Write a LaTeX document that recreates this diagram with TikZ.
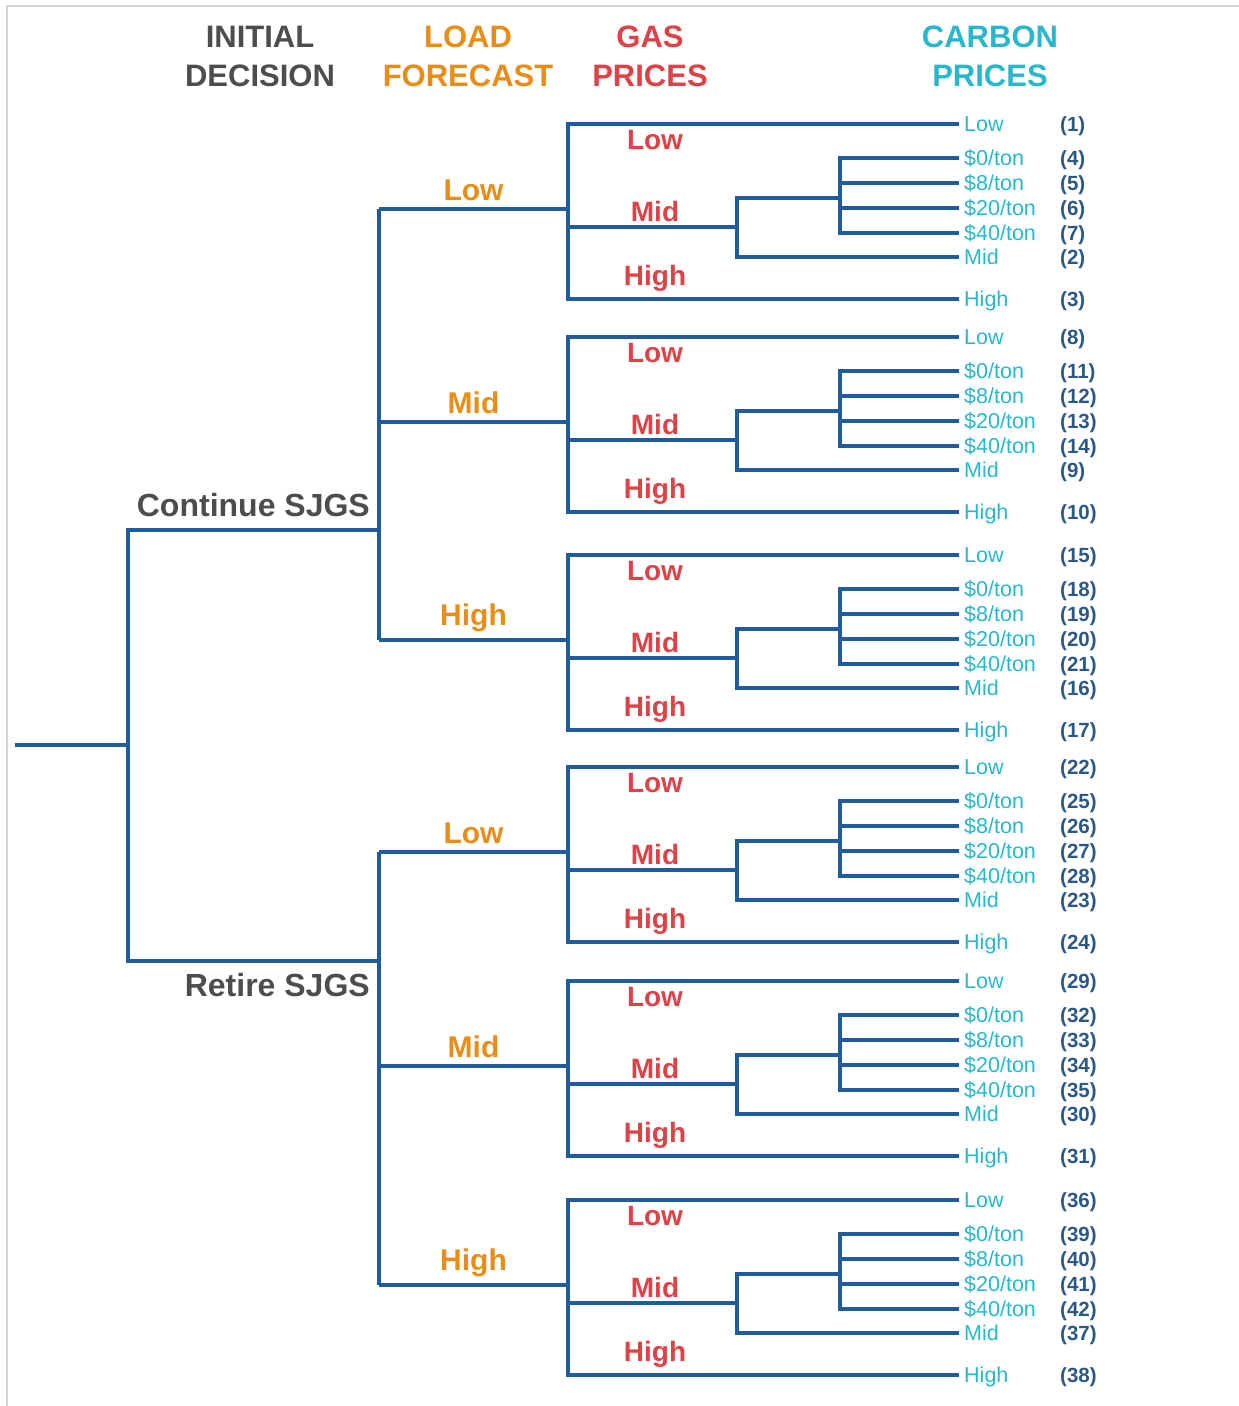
\documentclass[tikz,border=0pt]{standalone}
\usepackage{fontspec}
\setmainfont{Liberation Sans}
\usetikzlibrary{positioning}

\definecolor{treeblue}{RGB}{30,92,158}
\definecolor{headgray}{RGB}{77,77,77}
\definecolor{loadorange}{RGB}{232,142,24}
\definecolor{gasred}{RGB}{222,66,70}
\definecolor{carbcyan}{RGB}{40,183,204}
\definecolor{numblue}{RGB}{44,88,135}
\definecolor{framegray}{RGB}{212,212,212}

\begin{document}
\begin{tikzpicture}[x=1pt,y=-1pt,
  branch/.style={treeblue,line width=4pt},
  header/.style={font=\fontsize{31}{39}\selectfont\bfseries,align=center,inner sep=0pt},
  declbl/.style={headgray,font=\fontsize{32}{36}\selectfont\bfseries,inner sep=0pt},
  loadlbl/.style={loadorange,font=\fontsize{30}{34}\selectfont\bfseries,inner sep=0pt},
  gaslbl/.style={gasred,font=\fontsize{28}{32}\selectfont\bfseries,inner sep=0pt,anchor=base},
  leaf/.style={carbcyan,font=\fontsize{21.5}{24}\selectfont,anchor=west,inner xsep=5pt,inner ysep=0pt,text height=15.5pt,text depth=0pt},
  numlbl/.style={numblue,font=\fontsize{20.5}{24}\selectfont\bfseries,anchor=west,inner sep=0pt,text height=15pt,text depth=0pt}]
\useasboundingbox (0,0) rectangle (1239,1406);
\draw[framegray,line width=2pt] (7,1406) -- (7,6) -- (1239,6);

% column headings
\node[header,headgray] (hdInit) at (260,56) {INITIAL\\DECISION};
\node[header,loadorange] (hdLoad) at (468,56) {LOAD\\FORECAST};
\node[header,gasred] (hdGas) at (650,56) {GAS\\PRICES};
\node[header,carbcyan] (hdCarbon) at (990,56) {CARBON\\PRICES};

% one load forecast branch with its gas and carbon price cases
\foreach \i/\yo/\lf in {1/124/Low,2/337/Mid,3/555/High,4/767/Low,5/981/Mid,6/1200/High}{
  \coordinate (load\i) at (379,\yo+85);
  \coordinate (gas\i) at (568,\yo+85);
  \coordinate (cm\i) at (737,\yo+103);
  \coordinate (sub\i) at (840,\yo+74);
  \node[leaf] (lo-\i) at (959,\yo) {Low};
  \node[leaf] (usd0-\i) at (959,\yo+34) {\$0/ton};
  \node[leaf] (usd8-\i) at (959,\yo+59) {\$8/ton};
  \node[leaf] (usd20-\i) at (959,\yo+84) {\$20/ton};
  \node[leaf] (usd40-\i) at (959,\yo+109) {\$40/ton};
  \node[leaf] (mid-\i) at (959,\yo+133) {Mid};
  \node[leaf] (hi-\i) at (959,\yo+175) {High};
  \node[numlbl] (nlo-\i) at (1060,\yo) {(\the\numexpr7*\i-6\relax)};
  \node[numlbl] (n0-\i) at (1060,\yo+34) {(\the\numexpr7*\i-3\relax)};
  \node[numlbl] (n8-\i) at (1060,\yo+59) {(\the\numexpr7*\i-2\relax)};
  \node[numlbl] (n20-\i) at (1060,\yo+84) {(\the\numexpr7*\i-1\relax)};
  \node[numlbl] (n40-\i) at (1060,\yo+109) {(\the\numexpr7*\i\relax)};
  \node[numlbl] (nmid-\i) at (1060,\yo+133) {(\the\numexpr7*\i-5\relax)};
  \node[numlbl] (nhi-\i) at (1060,\yo+175) {(\the\numexpr7*\i-4\relax)};
  \draw[branch] (load\i) -- node[loadlbl,above=6pt] (ld\i) {\lf} (gas\i);
  \draw[branch] (lo-\i.west) -| (gas\i) |- (hi-\i.west);
  \draw[branch] (gas\i |- cm\i) -- (cm\i);
  \draw[branch] (sub\i) -| (cm\i) |- (mid-\i.west);
  \draw[branch] (usd0-\i.west) -| (sub\i) |- (usd40-\i.west);
  \draw[branch] (sub\i |- usd8-\i.west) -- (usd8-\i.west);
  \draw[branch] (sub\i |- usd20-\i.west) -- (usd20-\i.west);
  \node[gaslbl] (gl\i) at (655,\yo+25) {Low};
  \node[gaslbl] (gm\i) at (655,\yo+97) {Mid};
  \node[gaslbl] (gh\i) at (655,\yo+161) {High};
}

% initial decision
\coordinate (start) at (15,745);
\coordinate (root) at (128,745);
\coordinate (cont) at (379,530);
\coordinate (ret) at (379,961);
\draw[branch] (start) -- (root);
\draw[branch] (cont) -| (root) |- (ret);
\draw[branch] (load1) -- (load3);
\draw[branch] (load4) -- (load6);
\node[declbl,above left=13pt and 9pt of cont] (contLbl) {Continue SJGS};
\node[declbl,below left=12pt and 9pt of ret] (retLbl) {Retire SJGS};
\end{tikzpicture}
\end{document}
